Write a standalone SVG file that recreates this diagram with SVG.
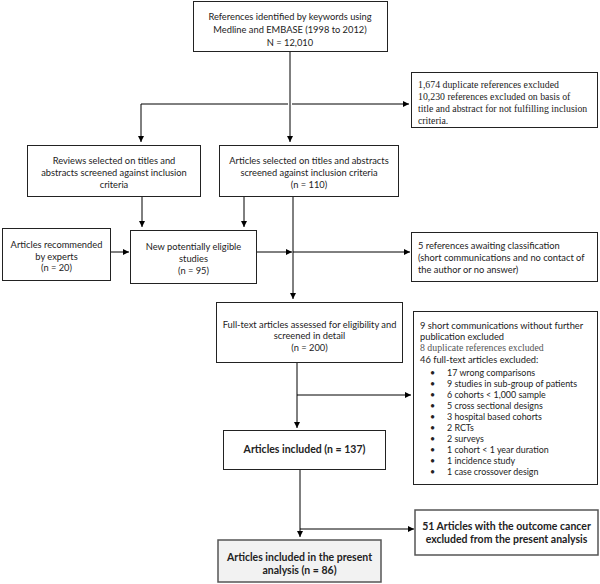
<svg xmlns="http://www.w3.org/2000/svg" width="600" height="584" viewBox="0 0 600 584">
<style>
.box{fill:#fff;stroke:#222;stroke-width:1}
.box2{fill:#fff;stroke:#555;stroke-width:1.5}
.fin{fill:#f2f2f2;stroke:#555;stroke-width:1.5}
.t{font-family:Lato,"Liberation Sans",sans-serif;font-size:9.3px;fill:#222}
.c{text-anchor:middle}
.b{font-weight:bold;font-size:10.5px}
.s{font-family:"Liberation Serif",serif;font-size:9.8px;fill:#222}
.g{fill:#555}
.sm{font-size:8.9px}
.ln{stroke:#000;stroke-width:1;fill:none}
</style>
<defs>
<marker id="ah" viewBox="0 0 8 8" refX="8" refY="4" markerWidth="6" markerHeight="6" markerUnits="userSpaceOnUse" orient="auto">
<path d="M0,0L8,4L0,8z" fill="#000"/>
</marker>
</defs>
<g id="connectors">
<path class="ln" d="M290,52V142" marker-end="url(#ah)"/>
<path class="ln" d="M288,104H141V142" marker-end="url(#ah)"/>
<path class="ln" d="M292,104H409" marker-end="url(#ah)"/>
<path class="ln" d="M142,197V227" marker-end="url(#ah)"/>
<path class="ln" d="M244,197V227" marker-end="url(#ah)"/>
<path class="ln" d="M111,252H129" marker-end="url(#ah)"/>
<path class="ln" d="M257,252H292" marker-end="url(#ah)"/>
<path class="ln" d="M293,252H410" marker-end="url(#ah)"/>
<path class="ln" d="M293,197V299" marker-end="url(#ah)"/>
<path class="ln" d="M297,363V428" marker-end="url(#ah)"/>
<path class="ln" d="M297,395H411" marker-end="url(#ah)"/>
<path class="ln" d="M300,470V537" marker-end="url(#ah)"/>
<path class="ln" d="M300,529H414" marker-end="url(#ah)"/>
</g>
<g id="n_identified">
<rect class="box" x="193.5" y="1.5" width="194" height="50"/>
<text class="t c" x="290" y="20">References identified by keywords using</text>
<text class="t c" x="290" y="33">Medline and EMBASE (1998 to 2012)</text>
<text class="t c" x="290" y="46">N = 12,010</text>
</g>
<g id="n_excl1">
<rect class="box" x="411.5" y="72.5" width="186" height="55"/>
<text class="s" x="418" y="88">1,674 duplicate references excluded</text>
<text class="s" x="418" y="100">10,230 references excluded on basis of</text>
<text class="s" x="418" y="112">title and abstract for not fulfilling inclusion</text>
<text class="s" x="418" y="124">criteria.</text>
</g>
<g id="n_reviews">
<rect class="box" x="27.5" y="145.5" width="173" height="51"/>
<text class="t c" x="114" y="164">Reviews selected on titles and</text>
<text class="t c" x="114" y="176">abstracts screened against inclusion</text>
<text class="t c" x="114" y="188">criteria</text>
</g>
<g id="n_articles">
<rect class="box" x="219.5" y="145.5" width="179" height="51"/>
<text class="t c" x="309" y="164">Articles selected on titles and abstracts</text>
<text class="t c" x="309" y="176">screened against inclusion criteria</text>
<text class="t c" x="309" y="188">(n = 110)</text>
</g>
<g id="n_experts">
<rect class="box" x="2.5" y="228.5" width="108" height="52"/>
<text class="t c" x="56.5" y="247.5">Articles recommended</text>
<text class="t c" x="56.5" y="259.5">by experts</text>
<text class="t c" x="56.5" y="271">(n = 20)</text>
</g>
<g id="n_new">
<rect class="box" x="130.5" y="230.5" width="126" height="53"/>
<text class="t c" x="193.5" y="249.5">New potentially eligible</text>
<text class="t c" x="193.5" y="261.5">studies</text>
<text class="t c" x="193.5" y="273.5">(n = 95)</text>
</g>
<g id="n_awaiting">
<rect class="box" x="411.5" y="232.5" width="186" height="49"/>
<text class="t" x="418" y="249">5 references awaiting classification</text>
<text class="t" x="418" y="261">(short communications and no contact of</text>
<text class="t" x="418" y="273">the author or no answer)</text>
</g>
<g id="n_fulltext">
<rect class="box" x="216.5" y="302.5" width="186" height="60"/>
<text class="t c" x="309.5" y="327.5">Full-text articles assessed for eligibility and</text>
<text class="t c" x="309.5" y="339">screened in detail</text>
<text class="t c" x="309.5" y="350.5">(n = 200)</text>
</g>
<g id="n_excl2">
<rect class="box" x="413.5" y="311.5" width="184" height="173"/>
<text class="t" x="420" y="328.5">9 short communications without further</text>
<text class="t" x="420" y="340">publication excluded</text>
<text class="t" x="420" y="351"><tspan class="s g">8</tspan><tspan class="s g"> duplicate references excluded</tspan></text>
<text class="t" x="420" y="362.5">46 full-text articles excluded:</text>
<g class="t sm">
<text x="430" y="375.5">•</text><text x="447" y="375.5">17 wrong comparisons</text>
<text x="430" y="386.5">•</text><text x="447" y="386.5">9 studies in sub-group of patients</text>
<text x="430" y="397.5">•</text><text x="447" y="397.5">6 cohorts &lt; 1,000 sample</text>
<text x="430" y="408.5">•</text><text x="447" y="408.5">5 cross sectional designs</text>
<text x="430" y="419.5">•</text><text x="447" y="419.5">3 hospital based cohorts</text>
<text x="430" y="430.5">•</text><text x="447" y="430.5">2 RCTs</text>
<text x="430" y="441.5">•</text><text x="447" y="441.5">2 surveys</text>
<text x="430" y="452.5">•</text><text x="447" y="452.5">1 cohort &lt; 1 year duration</text>
<text x="430" y="463.5">•</text><text x="447" y="463.5">1 incidence study</text>
<text x="430" y="475">•</text><text x="447" y="475">1 case crossover design</text>
</g>
</g>
<g id="n_included">
<rect class="box" x="223.5" y="430.5" width="162" height="39"/>
<text class="t c b" x="304.5" y="453">Articles included (n = 137)</text>
</g>
<g id="n_cancer">
<rect class="box2" x="415" y="510" width="183" height="45"/>
<text class="t c b" x="506.5" y="530">51 Articles with the outcome cancer</text>
<text class="t c b" x="506.5" y="543">excluded from the present analysis</text>
</g>
<g id="n_final">
<rect class="fin" x="218" y="540" width="163" height="42"/>
<text class="t c b" x="299.5" y="561">Articles included in the present</text>
<text class="t c b" x="299.5" y="574">analysis (n = 86)</text>
</g>
</svg>
